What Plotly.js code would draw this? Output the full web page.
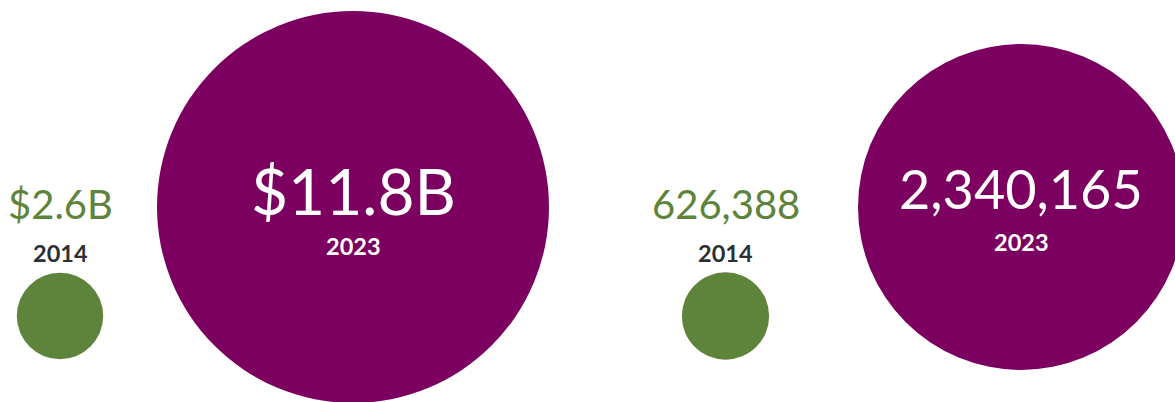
<!DOCTYPE html>
<html>
<head>
<meta charset="utf-8">
<script src="https://cdn.plot.ly/plotly-3.0.1.min.js"></script>
<style>html,body{margin:0;padding:0;background:#fff;}#chart{width:1175px;height:402px;}</style>
</head>
<body>
<div id="chart"></div>
<script>
// Data
const years = ["2014", "2023"];
const fundingValues = [2.6, 11.8];          // billions USD
const fundingLabels = ["$2.6B", "$11.8B"];
const countValues = [626388, 2340165];
const countLabels = ["626,388", "2,340,165"];

// Layout (pixel-space positions)
const GREEN = "#5e833a", PURPLE = "#7c0060", DARK = "#2b3035";
const groupX = [[60, 353], [725.5, 1021]];
const circleY = [316, 207];
const diamFor = [392 / 11.8, 326 / 2340165]; // px per unit (diameter)

function trace(vals, xs, scale) {
  return {
    type: "scatter", mode: "markers",
    x: xs, y: circleY,
    marker: {
      size: vals, sizemode: "diameter", sizeref: 1 / scale,
      color: [GREEN, PURPLE], opacity: 1, line: {width: 0}
    },
    cliponaxis: false, hoverinfo: "skip", showlegend: false
  };
}

const data = [
  trace(fundingValues, groupX[0], diamFor[0]),
  trace(countValues, groupX[1], diamFor[1])
];

const FONT = "Lato, 'Open Sans', sans-serif";
function ann(x, y, text, size, color, bold) {
  return {x: x, y: y, xref: "x", yref: "y", text: bold ? "<b>" + text + "</b>" : text,
    showarrow: false, xanchor: "center", yanchor: "middle",
    font: {family: FONT, size: size, color: color}};
}

const annotations = [
  ann(groupX[0][0], 204, fundingLabels[0], 40, GREEN, false),
  ann(groupX[0][0], 253, years[0], 23.5, DARK, true),
  ann(groupX[0][1], 190, fundingLabels[1], 64, "#ffffff", false),
  ann(groupX[0][1], 246, years[1], 23.5, "#ffffff", true),
  ann(groupX[1][0], 204, countLabels[0], 40, GREEN, false),
  ann(groupX[1][0], 253, years[0], 23.5, DARK, true),
  ann(groupX[1][1], 188, countLabels[1], 54, "#ffffff", false),
  ann(groupX[1][1], 242, years[1], 23.5, "#ffffff", true)
];

const layout = {
  width: 1175, height: 402,
  margin: {l: 0, r: 0, t: 0, b: 0},
  paper_bgcolor: "#ffffff", plot_bgcolor: "#ffffff",
  xaxis: {range: [0, 1175], visible: false, fixedrange: true},
  yaxis: {range: [402, 0], visible: false, fixedrange: true},
  annotations: annotations,
  font: {family: FONT}
};

Plotly.newPlot("chart", data, layout, {displayModeBar: false, staticPlot: true});
</script>
</body>
</html>
